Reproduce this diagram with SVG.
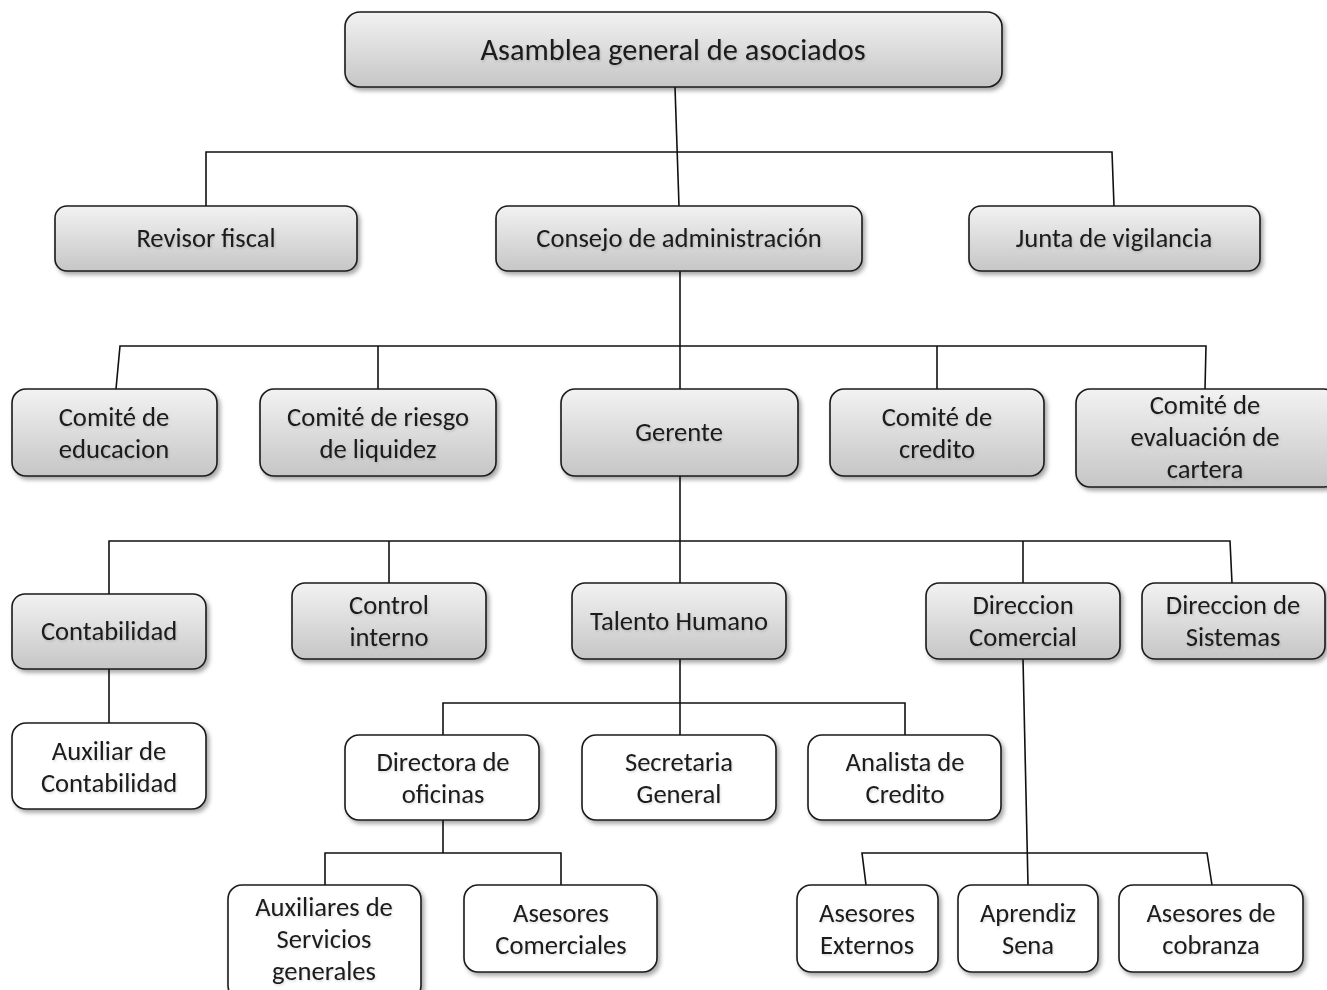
<svg xmlns="http://www.w3.org/2000/svg" width="1327" height="990" viewBox="0 0 1327 990">
  <defs>
    <linearGradient id="grayFill" x1="0" y1="0" x2="0" y2="1">
      <stop offset="0" stop-color="#f2f2f2"/>
      <stop offset="1" stop-color="#c6c6c6"/>
    </linearGradient>
    <filter id="boxShadow" x="-10%" y="-10%" width="125%" height="135%">
      <feDropShadow dx="2.5" dy="3" stdDeviation="2" flood-color="#000" flood-opacity="0.35"/>
    </filter>
    <filter id="textShadow" x="-5%" y="-20%" width="110%" height="150%">
      <feDropShadow dx="1" dy="1.5" stdDeviation="1.2" flood-color="#000" flood-opacity="0.15"/>
    </filter>
  </defs>
  <style>
    .box { stroke: #1a1a1a; stroke-width: 1.6; filter: url(#boxShadow); }
    .gray { fill: url(#grayFill); }
    .white { fill: #ffffff; }
    .label { font-family: Carlito, Lato, "Open Sans", sans-serif; font-size: 26.6px; fill: #1a1a1a; text-anchor: middle; filter: url(#textShadow); }
    .title { font-size: 30.4px; }
    .conn { fill: none; stroke: #111; stroke-width: 1.6; }
  </style>
  <rect width="1327" height="990" fill="#ffffff"/>

  <!-- connectors -->
  <g id="connectors" class="conn">
    <path d="M675,87 L679,206"/>
    <path d="M206,206 L206,152 L1112,152 L1114,206"/>
    <path d="M680,271 L680,389"/>
    <path d="M116,389 L120,346 L1206,346 L1205,389"/>
    <path d="M378,346 L378,389"/>
    <path d="M937,346 L937,389"/>
    <path d="M680,476 L680,583"/>
    <path d="M109,594 L109,541 L1230,541 L1232,583"/>
    <path d="M389,541 L389,583"/>
    <path d="M1023,541 L1023,583"/>
    <path d="M109,669 L109,723"/>
    <path d="M680,659 L680,735"/>
    <path d="M443,735 L443,703 L905,703 L905,735"/>
    <path d="M443,820 L443,853"/>
    <path d="M325,885 L325,853 L561,853 L561,885"/>
    <path d="M1023,659 L1028,885"/>
    <path d="M866,885 L862,853 L1207,853 L1212,885"/>
  </g>

  <!-- level 1 -->
  <g id="asamblea">
    <rect class="box gray" x="345" y="12" width="657" height="75" rx="15"/>
    <text class="label title" x="673" y="60">Asamblea general de asociados</text>
  </g>

  <!-- level 2 -->
  <g id="revisor-fiscal">
    <rect class="box gray" x="55" y="206" width="302" height="65" rx="12"/>
    <text class="label" x="206" y="247">Revisor fiscal</text>
  </g>
  <g id="consejo">
    <rect class="box gray" x="496" y="206" width="366" height="65" rx="12"/>
    <text class="label" x="679" y="247">Consejo de administración</text>
  </g>
  <g id="junta-vigilancia">
    <rect class="box gray" x="969" y="206" width="291" height="65" rx="12"/>
    <text class="label" x="1114" y="247">Junta de vigilancia</text>
  </g>

  <!-- level 3 -->
  <g id="comite-educacion">
    <rect class="box gray" x="12" y="389" width="205" height="87" rx="14"/>
    <text class="label" x="114" y="426">Comité de</text>
    <text class="label" x="114" y="458">educacion</text>
  </g>
  <g id="comite-riesgo">
    <rect class="box gray" x="260" y="389" width="236" height="87" rx="14"/>
    <text class="label" x="378" y="426">Comité de riesgo</text>
    <text class="label" x="378" y="458">de liquidez</text>
  </g>
  <g id="gerente">
    <rect class="box gray" x="561" y="389" width="237" height="87" rx="14"/>
    <text class="label" x="679" y="441">Gerente</text>
  </g>
  <g id="comite-credito">
    <rect class="box gray" x="830" y="389" width="214" height="87" rx="14"/>
    <text class="label" x="937" y="426">Comité de</text>
    <text class="label" x="937" y="458">credito</text>
  </g>
  <g id="comite-evaluacion">
    <rect class="box gray" x="1076" y="389" width="262" height="98" rx="14"/>
    <text class="label" x="1205" y="414">Comité de</text>
    <text class="label" x="1205" y="446">evaluación de</text>
    <text class="label" x="1205" y="478">cartera</text>
  </g>

  <!-- level 4 -->
  <g id="contabilidad">
    <rect class="box gray" x="12" y="594" width="194" height="75" rx="13"/>
    <text class="label" x="109" y="640">Contabilidad</text>
  </g>
  <g id="control-interno">
    <rect class="box gray" x="292" y="583" width="194" height="76" rx="13"/>
    <text class="label" x="389" y="614">Control</text>
    <text class="label" x="389" y="646">interno</text>
  </g>
  <g id="talento-humano">
    <rect class="box gray" x="572" y="583" width="214" height="76" rx="13"/>
    <text class="label" x="679" y="630">Talento Humano</text>
  </g>
  <g id="direccion-comercial">
    <rect class="box gray" x="926" y="583" width="194" height="76" rx="13"/>
    <text class="label" x="1023" y="614">Direccion</text>
    <text class="label" x="1023" y="646">Comercial</text>
  </g>
  <g id="direccion-sistemas">
    <rect class="box gray" x="1142" y="583" width="183" height="76" rx="13"/>
    <text class="label" x="1233" y="614">Direccion de</text>
    <text class="label" x="1233" y="646">Sistemas</text>
  </g>

  <!-- level 5 -->
  <g id="auxiliar-contabilidad">
    <rect class="box white" x="12" y="723" width="194" height="86" rx="14"/>
    <text class="label" x="109" y="760">Auxiliar de</text>
    <text class="label" x="109" y="792">Contabilidad</text>
  </g>
  <g id="directora-oficinas">
    <rect class="box white" x="345" y="735" width="194" height="85" rx="14"/>
    <text class="label" x="443" y="771">Directora de</text>
    <text class="label" x="443" y="803">oficinas</text>
  </g>
  <g id="secretaria-general">
    <rect class="box white" x="582" y="735" width="194" height="85" rx="14"/>
    <text class="label" x="679" y="771">Secretaria</text>
    <text class="label" x="679" y="803">General</text>
  </g>
  <g id="analista-credito">
    <rect class="box white" x="808" y="735" width="193" height="85" rx="14"/>
    <text class="label" x="905" y="771">Analista de</text>
    <text class="label" x="905" y="803">Credito</text>
  </g>

  <!-- level 6 -->
  <g id="auxiliares-servicios">
    <rect class="box white" x="228" y="885" width="193" height="115" rx="14"/>
    <text class="label" x="324" y="916">Auxiliares de</text>
    <text class="label" x="324" y="948">Servicios</text>
    <text class="label" x="324" y="980">generales</text>
  </g>
  <g id="asesores-comerciales">
    <rect class="box white" x="464" y="885" width="193" height="87" rx="14"/>
    <text class="label" x="561" y="922">Asesores</text>
    <text class="label" x="561" y="954">Comerciales</text>
  </g>
  <g id="asesores-externos">
    <rect class="box white" x="797" y="885" width="141" height="87" rx="14"/>
    <text class="label" x="867" y="922">Asesores</text>
    <text class="label" x="867" y="954">Externos</text>
  </g>
  <g id="aprendiz-sena">
    <rect class="box white" x="958" y="885" width="140" height="87" rx="14"/>
    <text class="label" x="1028" y="922">Aprendiz</text>
    <text class="label" x="1028" y="954">Sena</text>
  </g>
  <g id="asesores-cobranza">
    <rect class="box white" x="1119" y="885" width="184" height="87" rx="14"/>
    <text class="label" x="1211" y="922">Asesores de</text>
    <text class="label" x="1211" y="954">cobranza</text>
  </g>
</svg>
